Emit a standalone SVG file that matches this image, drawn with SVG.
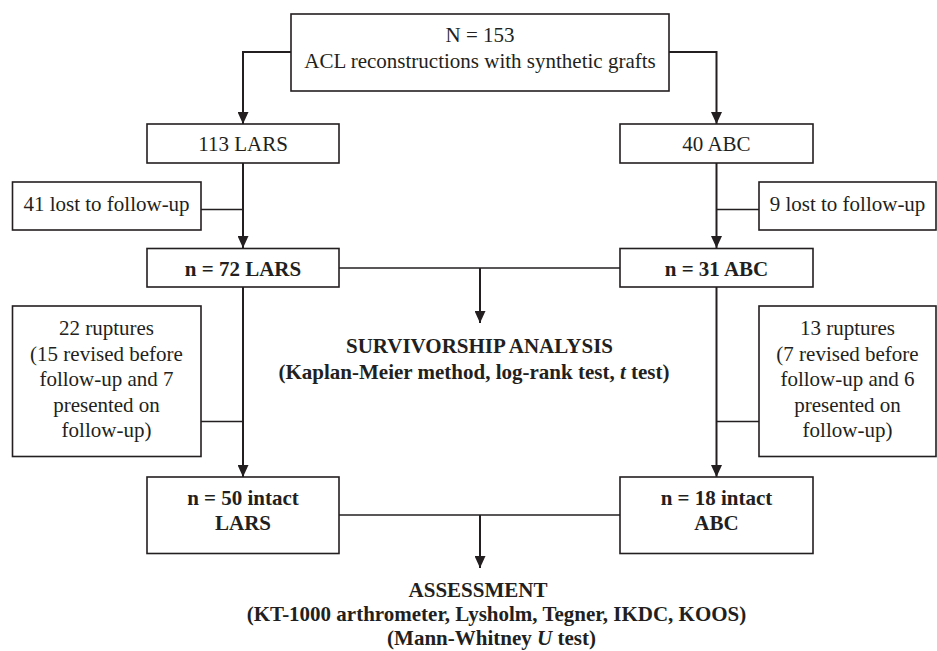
<svg xmlns="http://www.w3.org/2000/svg" width="937" height="651" viewBox="0 0 937 651">
<defs>
<marker id="ah" viewBox="0 0 12 11" refX="12" refY="5.5" markerWidth="12" markerHeight="11" markerUnits="userSpaceOnUse" orient="auto">
<path d="M0,0 L12,5.5 L0,11 Z" fill="#231f20"/>
</marker>
<style>
.box{fill:#fff;stroke:#231f20;stroke-width:1.6}
.t{font-family:"Liberation Serif","Times New Roman",serif;font-size:21px;fill:#231f20;text-anchor:middle}
.b{font-weight:bold}
.arr{fill:none;stroke:#231f20;stroke-width:2;marker-end:url(#ah)}
.ln{fill:none;stroke:#231f20;stroke-width:1.5}
</style>
</defs>
<rect width="937" height="651" fill="#fff"/>
<g id="connectors">
<path class="arr" d="M291,52 H243 V124"/>
<path class="arr" d="M669,52 H716.5 V124"/>
<path class="arr" d="M243,163 V248"/>
<path class="arr" d="M716.5,163 V248"/>
<path class="ln" d="M201,209.5 H243"/>
<path class="ln" d="M759,209.5 H716.5"/>
<path class="ln" d="M339,268 H620"/>
<path class="arr" d="M480,268 V323"/>
<path class="arr" d="M243,287 V477"/>
<path class="arr" d="M716.5,287 V477"/>
<path class="ln" d="M201,421.5 H243"/>
<path class="ln" d="M759,421.5 H716.5"/>
<path class="ln" d="M339,515 H620"/>
<path class="arr" d="M480,515 V568"/>
</g>
<g id="n-total">
<rect class="box" x="291" y="14" width="378" height="77"/>
<text class="t" x="480" y="42">N = 153</text>
<text class="t" x="480" y="68">ACL reconstructions with synthetic grafts</text>
</g>
<g id="n-lars">
<rect class="box" x="147" y="124" width="192" height="39"/>
<text class="t" x="243" y="151">113 LARS</text>
</g>
<g id="n-abc">
<rect class="box" x="620" y="124" width="193" height="39"/>
<text class="t" x="716.5" y="151">40 ABC</text>
</g>
<g id="lost-lars">
<rect class="box" x="12.5" y="182" width="188.5" height="48"/>
<text class="t" x="106.5" y="211">41 lost to follow-up</text>
</g>
<g id="lost-abc">
<rect class="box" x="759" y="182" width="177" height="48"/>
<text class="t" x="847.5" y="211">9 lost to follow-up</text>
</g>
<g id="n72-lars">
<rect class="box" x="147" y="248.5" width="192" height="38.5"/>
<text class="t b" x="243" y="275.5">n = 72 LARS</text>
</g>
<g id="n31-abc">
<rect class="box" x="620" y="248.5" width="193" height="38.5"/>
<text class="t b" x="716.5" y="275.5">n = 31 ABC</text>
</g>
<g id="survivorship">
<text class="t b" x="479.5" y="353">SURVIVORSHIP ANALYSIS</text>
<text class="t b" x="474" y="379">(Kaplan-Meier method, log-rank test, <tspan font-style="italic">t</tspan> test)</text>
</g>
<g id="rupt-lars">
<rect class="box" x="12.5" y="306" width="188.5" height="150.5"/>
<text class="t" x="106.5" y="335">22 ruptures</text>
<text class="t" x="106.5" y="360.5">(15 revised before</text>
<text class="t" x="106.5" y="386">follow-up and 7</text>
<text class="t" x="106.5" y="411.5">presented on</text>
<text class="t" x="106.5" y="437">follow-up)</text>
</g>
<g id="rupt-abc">
<rect class="box" x="759" y="306" width="177" height="150.5"/>
<text class="t" x="847.5" y="335">13 ruptures</text>
<text class="t" x="847.5" y="360.5">(7 revised before</text>
<text class="t" x="847.5" y="386">follow-up and 6</text>
<text class="t" x="847.5" y="411.5">presented on</text>
<text class="t" x="847.5" y="437">follow-up)</text>
</g>
<g id="n50-lars">
<rect class="box" x="147" y="477" width="192" height="76.5"/>
<text class="t b" x="243" y="505">n = 50 intact</text>
<text class="t b" x="243" y="530">LARS</text>
</g>
<g id="n18-abc">
<rect class="box" x="620" y="477" width="193" height="76.5"/>
<text class="t b" x="716.5" y="505">n = 18 intact</text>
<text class="t b" x="716.5" y="530">ABC</text>
</g>
<g id="assessment">
<text class="t b" x="478" y="597">ASSESSMENT</text>
<text class="t b" x="496.5" y="621">(KT-1000 arthrometer, Lysholm, Tegner, IKDC, KOOS)</text>
<text class="t b" x="491.5" y="645">(Mann-Whitney <tspan font-style="italic">U</tspan> test)</text>
</g>
</svg>
